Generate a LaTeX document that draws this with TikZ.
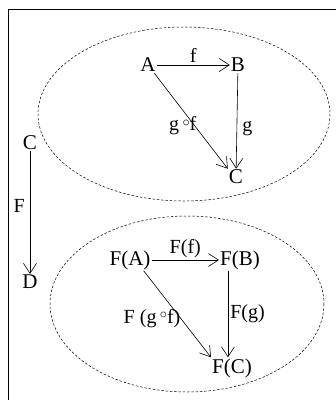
\documentclass[tikz,border=0pt]{standalone}
\usepackage{fontspec}
\setmainfont{Liberation Serif}
\usetikzlibrary{arrows.meta}
\newcommand{\cmp}{\,\raisebox{0.22em}{$\scriptstyle\circ$}}

\begin{document}
\begin{tikzpicture}[x=1pt,y=-1pt,
    obj/.style={inner sep=1pt, font=\fontsize{21}{24}\selectfont},
    lbl/.style={inner sep=1pt, font=\fontsize{20}{23}\selectfont},
    map/.style={line width=0.6pt, -{Straight Barb[length=10pt,width=13pt]}},
    blob/.style={line width=0.5pt, dash pattern=on 2.5pt off 1.8pt}]
  \useasboundingbox (0,0) rectangle (336,400);
    % frame
    \draw[line width=0.8pt] (8,400) -- (8,9) -- (336,9);
    % upper category
    \draw[blob] (184,114) ellipse [x radius=146, y radius=87];
    \node[obj] (A) at (148,65) {A};
    \node[obj] (B) at (238,65) {B};
    \node[obj] (C) at (236,177) {C};
    \draw[map] (A) -- (B) node[lbl, midway, above, yshift=1pt]{f};
    \draw[map] (B) -- (C) node[lbl, midway, right, xshift=4pt, yshift=-8pt]{g};
    \draw[map] (A) -- (C.north west) node[lbl, pos=0.55, anchor=east, xshift=3pt]{g\cmp f};
    % functor
    \node[obj] (C0) at (30,143) {C};
    \node[obj] (D) at (30,282) {D};
    \draw[map] (C0) -- (D) node[lbl, pos=0.45, left, xshift=-4pt]{F};
    % lower category
    \draw[blob] (187,304) ellipse [x radius=137, y radius=88];
    \node[obj] (FA) at (130,260) {F(A)};
    \node[obj] (FB) at (240,260) {F(B)};
    \node[obj] (FC) at (232,368) {F(C)};
    \draw[map] (FA) -- (FB) node[lbl, midway, above, yshift=1pt]{F(f)};
    \draw[map] (FB.south west) ++(9,0) coordinate (fbs) -- (FC.north -| fbs) node[lbl, midway, right, xshift=1pt]{F(g)};
    \draw[map] (FA.south east) ++(-8,0) coordinate (fas) -- (FC.north west) node[lbl, pos=0.55, anchor=east, xshift=1pt]{F (g\cmp f)};
\end{tikzpicture}
\end{document}
